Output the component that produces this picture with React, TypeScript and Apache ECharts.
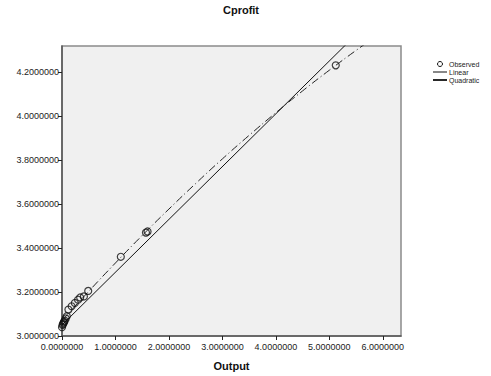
import React, { useEffect, useRef } from "react";
import * as echarts from "echarts";

const obsX = [0.0, 0.01, 0.02, 0.03, 0.04, 0.05, 0.07, 0.09, 0.12, 0.18, 0.24, 0.3, 0.34, 0.41, 0.49, 1.1, 1.57, 1.6, 5.12];
const obsY = [3.04, 3.05, 3.055, 3.06, 3.065, 3.07, 3.08, 3.09, 3.12, 3.135, 3.15, 3.165, 3.175, 3.18, 3.205, 3.36, 3.47, 3.475, 4.23];
const linX = [0, 6];
const linY = [3.05, 4.49];
const quadX = [0, 0.5, 1, 1.5, 2, 2.5, 3, 3.5, 4, 4.5, 5, 5.5, 6];
const quadY = [3.07, 3.203, 3.332, 3.457, 3.577, 3.693, 3.805, 3.912, 4.015, 4.114, 4.208, 4.298, 4.384];
const legendNames = ["Observed", "Linear", "Quadratic"];

export default function App() {
  const ref = useRef<HTMLDivElement>(null);
  useEffect(() => {
    if (!ref.current) return;
    const chart = echarts.init(ref.current, null, { renderer: "svg" });
    const font = "Liberation Sans, Arial, sans-serif";
    const lgX = 433;
    const lgY = 64;
    const lgStep = 8;
    chart.setOption({
      animation: false,
      backgroundColor: "#ffffff",
      textStyle: { fontFamily: font },
      title: {
        text: "Cprofit",
        left: 236,
        top: -1,
        textAlign: "center",
        textStyle: { fontSize: 11, fontWeight: "bold", color: "#111", fontFamily: font },
      },
      graphic: [
        { type: "circle", shape: { cx: lgX + 7, cy: lgY, r: 2.5 }, style: { fill: "none", stroke: "#111", lineWidth: 1 } },
        { type: "line", shape: { x1: lgX, y1: lgY + lgStep, x2: lgX + 14, y2: lgY + lgStep }, style: { stroke: "#111", lineWidth: 1 } },
        { type: "line", shape: { x1: lgX, y1: lgY + 2 * lgStep, x2: lgX + 14, y2: lgY + 2 * lgStep }, style: { stroke: "#111", lineWidth: 1.8 } },
        ...legendNames.map((n, i) => ({
          type: "text",
          x: lgX + 16,
          y: lgY + i * lgStep,
          style: { text: n, fontSize: 7, lineHeight: 7, fill: "#222", fontFamily: font, verticalAlign: "middle", align: "left" },
        })),
      ],
      grid: {
        left: 62,
        top: 46,
        width: 339,
        height: 290,
        show: true,
        backgroundColor: "#f0f0f0",
        borderColor: "#8a8a8a",
        borderWidth: 1.5,
      },
      xAxis: {
        type: "value",
        min: 0,
        max: 6.34,
        interval: 1,
        name: "Output",
        nameLocation: "middle",
        nameGap: 24,
        nameTextStyle: { fontSize: 11, fontWeight: "bold", color: "#111", fontFamily: font },
        axisLine: { show: true, lineStyle: { color: "#555", width: 1.5 } },
        axisTick: { show: true, length: 4, lineStyle: { color: "#222" } },
        axisLabel: { fontSize: 9, color: "#222", margin: 6, formatter: (v: number) => v.toFixed(7), showMaxLabel: false },
        splitLine: { show: false },
      },
      yAxis: {
        type: "value",
        min: 3.0,
        max: 4.318,
        interval: 0.2,
        axisLine: { show: true, lineStyle: { color: "#555", width: 1.5 } },
        axisTick: { show: true, length: 4, lineStyle: { color: "#222" } },
        axisLabel: { fontSize: 9, color: "#222", margin: 3, formatter: (v: number) => v.toFixed(7), showMaxLabel: false },
        splitLine: { show: false },
      },
      series: [
        {
          name: "Observed",
          type: "scatter",
          symbol: "circle",
          symbolSize: 7,
          itemStyle: { color: "rgba(0,0,0,0)", borderColor: "#111", borderWidth: 1.2 },
          data: obsX.map((x, i) => [x, obsY[i]]),
          z: 3,
        },
        {
          name: "Linear",
          type: "line",
          symbol: "none",
          showSymbol: false,
          clip: true,
          color: "#111",
          lineStyle: { color: "#111", width: 1, type: "solid" },
          data: linX.map((x, i) => [x, linY[i]]),
          z: 2,
        },
        {
          name: "Quadratic",
          type: "line",
          symbol: "none",
          showSymbol: false,
          clip: true,
          smooth: true,
          color: "#222",
          lineStyle: { color: "#222", width: 1, type: [8, 3, 1, 3] },
          data: quadX.map((x, i) => [x, quadY[i]]),
          z: 2,
        },
      ],
    });
    return () => chart.dispose();
  }, []);
  return <div ref={ref} style={{ width: 491, height: 376, position: "absolute", left: 0, top: 0 }} />;
}
